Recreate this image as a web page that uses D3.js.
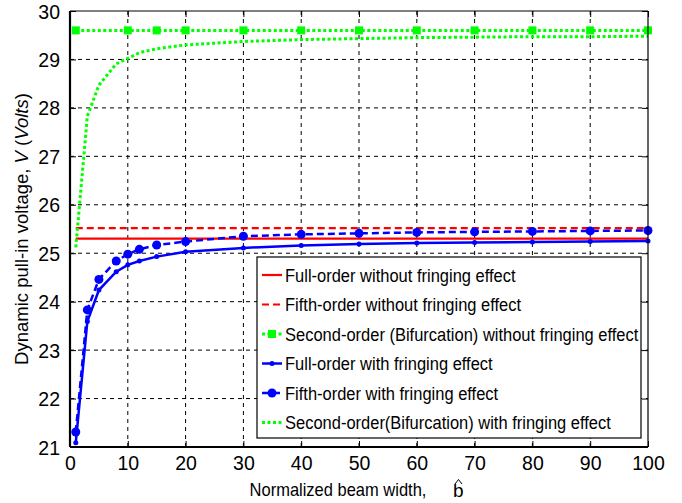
<!DOCTYPE html>
<html>
<head>
<meta charset="utf-8">
<script src="https://cdn.jsdelivr.net/npm/d3@7"></script>
<style>
  body { margin: 0; background: #fff; }
  text { font-family: "Liberation Sans", Arial, Helvetica, sans-serif; fill: #000; }
</style>
</head>
<body>
<div class="render"></div>
<script>
// values
var xWith = [1, 3, 5, 8, 10, 12, 15, 20, 30, 40, 50, 60, 70, 80, 90, 100];
var fullWith = [21.09, 23.59, 24.24, 24.62, 24.76, 24.84, 24.93, 25.03, 25.11, 25.16, 25.19, 25.21, 25.22, 25.23, 25.24, 25.25];
var fifthWith = [21.31, 23.83, 24.46, 24.84, 24.98, 25.08, 25.17, 25.24, 25.35, 25.39, 25.41, 25.43, 25.44, 25.45, 25.46, 25.47];
var secondWith = [25.12, 27.83, 28.47, 28.91, 29.02, 29.14, 29.22, 29.30, 29.37, 29.41, 29.43, 29.45, 29.46, 29.47, 29.47, 29.48];

var xWithout = [1, 10, 15, 20, 30, 40, 50, 60, 70, 80, 90, 100];
var fullWithout = [25.30, 25.30, 25.30, 25.30, 25.30, 25.30, 25.30, 25.30, 25.30, 25.30, 25.30, 25.30];
var fifthWithout = [25.52, 25.52, 25.52, 25.52, 25.52, 25.52, 25.52, 25.52, 25.52, 25.52, 25.52, 25.52];
var secondWithout = [29.60, 29.60, 29.60, 29.60, 29.60, 29.60, 29.60, 29.60, 29.60, 29.60, 29.60, 29.60];

var xTicks = [0, 10, 20, 30, 40, 50, 60, 70, 80, 90, 100];
var yTicks = [21, 22, 23, 24, 25, 26, 27, 28, 29, 30];

var legendLabels = [
    "Full-order without fringing effect",
    "Fifth-order without fringing effect",
    "Second-order (Bifurcation) without fringing effect",
    "Full-order with fringing effect",
    "Fifth-order with fringing effect",
    "Second-order(Bifurcation) with fringing effect"
];

var W = 682, H = 503;
var plot = { left: 70, right: 648, top: 11, bottom: 447 };

var x = d3.scaleLinear().domain([0, 100]).range([plot.left, plot.right]);
var y = d3.scaleLinear().domain([21, 30]).range([plot.bottom, plot.top]);

// styles for each series (same order as legend)
var series = [
    { xs: xWithout, ys: fullWithout,   color: "#ff0000", width: 2.2, dash: null,    marker: null },
    { xs: xWithout, ys: fifthWithout,  color: "#ff0000", width: 2.2, dash: "7,4",   marker: null },
    { xs: xWithout, ys: secondWithout, color: "#00ff00", width: 3,   dash: "3,2.5", marker: "square" },
    { xs: xWith,    ys: fullWith,      color: "#0000ff", width: 2.5, dash: null,    marker: "dot" },
    { xs: xWith,    ys: fifthWith,     color: "#0000ff", width: 2.5, dash: "7,4",   marker: "circle" },
    { xs: xWith,    ys: secondWith,    color: "#00ff00", width: 3,   dash: "3,2.5", marker: null }
];

var svg = d3.select(".render").append("svg")
    .attr("width", W)
    .attr("height", H);

svg.append("rect").attr("width", W).attr("height", H).attr("fill", "#fff");

// grid
var grid = svg.append("g").attr("stroke", "#000").attr("stroke-width", 1).attr("stroke-dasharray", "4,4");
grid.selectAll(".vg").data(xTicks.slice(1, -1)).enter().append("line")
    .attr("x1", function(d) { return x(d); }).attr("x2", function(d) { return x(d); })
    .attr("y1", plot.top).attr("y2", plot.bottom);
grid.selectAll(".hg").data(yTicks.slice(1, -1)).enter().append("line")
    .attr("x1", plot.left).attr("x2", plot.right)
    .attr("y1", function(d) { return y(d); }).attr("y2", function(d) { return y(d); });

// axes with inward ticks on all sides
var axB = svg.append("g").attr("transform", "translate(0," + plot.bottom + ")")
    .call(d3.axisBottom(x).tickValues(xTicks).tickSizeInner(-6).tickSizeOuter(0).tickPadding(10));
var axT = svg.append("g").attr("transform", "translate(0," + plot.top + ")")
    .call(d3.axisTop(x).tickValues(xTicks).tickSizeInner(-6).tickSizeOuter(0).tickFormat(""));
var axL = svg.append("g").attr("transform", "translate(" + plot.left + ",0)")
    .call(d3.axisLeft(y).tickValues(yTicks).tickSizeInner(-6).tickSizeOuter(0).tickPadding(10));
var axR = svg.append("g").attr("transform", "translate(" + plot.right + ",0)")
    .call(d3.axisRight(y).tickValues(yTicks).tickSizeInner(-6).tickSizeOuter(0).tickFormat(""));

[axB, axT, axL, axR].forEach(function(a) {
    a.select(".domain").remove();
    a.selectAll(".tick line").attr("stroke", "#000").attr("stroke-width", 1);
    a.selectAll("text").attr("font-size", 19.5).attr("font-family", "Liberation Sans, Arial, sans-serif").attr("fill", "#000");
});
axL.selectAll("text").attr("dy", "0.36em");
axB.selectAll("text").attr("dy", "0.68em");

// series lines
var line = d3.line()
    .x(function(d) { return x(d[0]); })
    .y(function(d) { return y(d[1]); });

function drawMarker(g, kind, cx, cy, color) {
    if (kind == "square") {
        g.append("rect").attr("x", cx - 4).attr("y", cy - 4).attr("width", 8).attr("height", 8).attr("fill", color);
    } else if (kind == "circle") {
        g.append("circle").attr("cx", cx).attr("cy", cy).attr("r", 4.5).attr("fill", color);
    } else if (kind == "dot") {
        g.append("circle").attr("cx", cx).attr("cy", cy).attr("r", 2.5).attr("fill", color);
    }
}

var lines = svg.append("g");
series.forEach(function(s) {
    var pts = s.xs.map(function(v, i) { return [v, s.ys[i]]; });
    lines.append("path")
        .attr("d", line(pts))
        .attr("fill", "none")
        .attr("stroke", s.color)
        .attr("stroke-width", s.width)
        .attr("stroke-dasharray", s.dash);
    if (s.marker) {
        var mg = lines.append("g");
        pts.forEach(function(p) { drawMarker(mg, s.marker, x(p[0]), y(p[1]), s.color); });
    }
});

// frame
svg.append("line").attr("x1", plot.left).attr("x2", plot.right).attr("y1", plot.top).attr("y2", plot.top).attr("stroke", "#000").attr("stroke-width", 1.2);
svg.append("line").attr("x1", plot.right).attr("x2", plot.right).attr("y1", plot.top).attr("y2", plot.bottom).attr("stroke", "#000").attr("stroke-width", 1.2);
svg.append("line").attr("x1", plot.left).attr("x2", plot.right).attr("y1", plot.bottom).attr("y2", plot.bottom).attr("stroke", "#000").attr("stroke-width", 2.2);
svg.append("line").attr("x1", plot.left).attr("x2", plot.left).attr("y1", plot.top).attr("y2", plot.bottom).attr("stroke", "#000").attr("stroke-width", 2.2);

// legend
var lg = svg.append("g");
lg.append("rect")
    .attr("x", 257).attr("y", 257).attr("width", 384).attr("height", 181)
    .attr("fill", "#fff").attr("stroke", "#000").attr("stroke-width", 1.2);
legendLabels.forEach(function(lab, i) {
    var s = series[i];
    var cy = 275 + i * 29.5;
    lg.append("line")
        .attr("x1", 262).attr("x2", 282).attr("y1", cy).attr("y2", cy)
        .attr("stroke", s.color).attr("stroke-width", s.width)
        .attr("stroke-dasharray", s.dash);
    if (s.marker) drawMarker(lg, s.marker, 272, cy, s.color);
    lg.append("text")
        .attr("transform", "translate(285," + (cy + 6.5) + ") scale(1.0,1.12)")
        .attr("font-size", 16.5)
        .text(lab);
});

// axis labels
svg.append("text")
    .attr("transform", "translate(338,496) scale(1.0,1.15)")
    .attr("text-anchor", "middle")
    .attr("font-size", 16.5)
    .text("Normalized beam width,");
svg.append("text")
    .attr("x", 453).attr("y", 497)
    .attr("font-family", "Liberation Serif, Times New Roman, serif")
    .attr("font-size", 19)
    .text("b");
// hat over the b
svg.append("path")
    .attr("d", "M455,484 L458.5,479.5 L462,484")
    .attr("fill", "none")
    .attr("stroke", "#000")
    .attr("stroke-width", 1);

var yl = svg.append("text")
    .attr("transform", "translate(28,229) rotate(-90)")
    .attr("text-anchor", "middle")
    .attr("font-size", 18.5);
yl.append("tspan").text("Dynamic pull-in voltage, ");
yl.append("tspan").attr("font-style", "italic").text("V");
yl.append("tspan").text(" (");
yl.append("tspan").attr("font-style", "italic").text("Volts");
yl.append("tspan").text(")");
</script>
</body>
</html>
